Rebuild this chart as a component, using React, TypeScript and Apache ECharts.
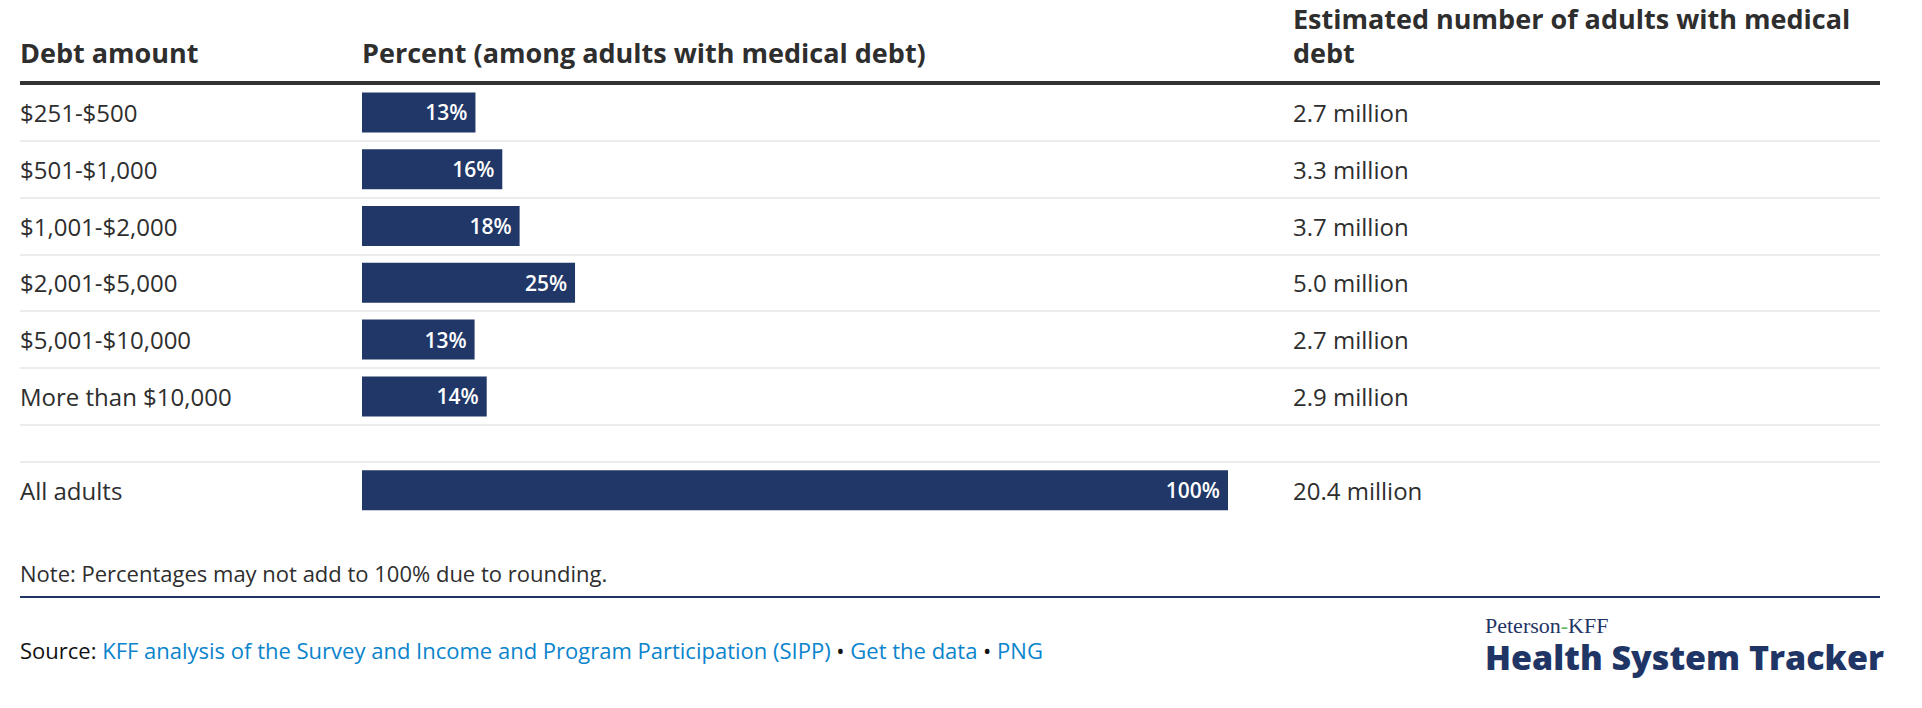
import React, { useEffect, useRef } from "react";
import * as echarts from "echarts";

// ---- data ----
const CATEGORIES = [
  "$251-$500",
  "$501-$1,000",
  "$1,001-$2,000",
  "$2,001-$5,000",
  "$5,001-$10,000",
  "More than $10,000",
];
const PERCENTS = [13.1, 16.2, 18.2, 24.6, 13.0, 14.4];
const MILLIONS = [2.7, 3.3, 3.7, 5.0, 2.7, 2.9];
const TOTAL_CATEGORY = ["All adults"];
const TOTAL_PERCENT = [100];
const TOTAL_MILLIONS = [20.4];

const HEADER_DEBT = "Debt amount";
const HEADER_PERCENT = "Percent (among adults with medical debt)";
const HEADER_ESTIMATE = "Estimated number of adults with medical\ndebt";
const NOTE = "Note: Percentages may not add to 100% due to rounding.";
const SOURCE_LINK = "KFF analysis of the Survey and Income and Program Participation (SIPP)";

// ---- layout / style ----
const FONT = '"Open Sans", "Noto Sans", sans-serif';
const NAVY = "#203768";
const TEXT = "#2e2e2e";
const LEFT = 20;
const RIGHT_EDGE = 1880;
const BAR_LEFT = 362;
const BAR_FULL = 866;
const TABLE_TOP = 84;
const ROW_H = 56.8;
const SPACER_H = 37;
const VALUE_X = 1293;
const ROW_FONT = 24;

export default function App() {
  const ref = useRef<HTMLDivElement>(null);

  useEffect(() => {
    if (!ref.current) return;
    const chart = echarts.init(ref.current, null, { renderer: "svg" });
    const W = 1922;
    const gridRight = W - (BAR_LEFT + BAR_FULL);
    const fullRight = W - RIGHT_EDGE;
    const mainH = ROW_H * CATEGORIES.length;
    const totalTop = TABLE_TOP + mainH + SPACER_H;

    const labelStyle = {
      show: true,
      position: "insideRight",
      distance: 8,
      color: "#ffffff",
      fontFamily: FONT,
      fontSize: 21,
      fontWeight: 600,
      formatter: (p: any) => Math.round(p.value) + "%",
    };

    const leftAxisLabel = {
      align: "left",
      margin: BAR_LEFT - LEFT,
      fontSize: ROW_FONT,
      color: TEXT,
      fontFamily: FONT,
      interval: 0,
    };
    const rightAxisLabelBase = {
      align: "left",
      margin: VALUE_X - (BAR_LEFT + BAR_FULL),
      fontSize: ROW_FONT,
      color: TEXT,
      fontFamily: FONT,
      interval: 0,
    };
    const noLine = { show: false };
    const sep = { show: true, lineStyle: { color: "#ececec", width: 2 } };
    const headerFont = `bold 27px ${FONT}`;

    chart.setOption({
      animation: false,
      textStyle: { fontFamily: FONT },
      grid: [
        { left: BAR_LEFT, right: gridRight, top: TABLE_TOP, height: mainH },
        { left: BAR_LEFT, right: gridRight, top: totalTop, height: ROW_H },
        { left: LEFT, right: fullRight, top: TABLE_TOP, height: mainH },
        { left: LEFT, right: fullRight, top: TABLE_TOP + mainH, height: SPACER_H },
      ],
      xAxis: [
        { gridIndex: 0, type: "value", min: 0, max: 100, show: false },
        { gridIndex: 1, type: "value", min: 0, max: 100, show: false },
        { gridIndex: 2, type: "value", show: false },
        { gridIndex: 3, type: "value", show: false },
      ],
      yAxis: [
        {
          gridIndex: 0, type: "category", data: CATEGORIES, inverse: true, position: "left",
          axisLine: noLine, axisTick: noLine, splitLine: noLine, axisLabel: leftAxisLabel,
        },
        {
          gridIndex: 0, type: "category", data: CATEGORIES, inverse: true, position: "right",
          axisLine: noLine, axisTick: noLine, splitLine: noLine,
          axisLabel: { ...rightAxisLabelBase, formatter: (_v: string, i: number) => MILLIONS[i].toFixed(1) + " million" },
        },
        {
          gridIndex: 1, type: "category", data: TOTAL_CATEGORY, inverse: true, position: "left",
          axisLine: noLine, axisTick: noLine, splitLine: noLine, axisLabel: leftAxisLabel,
        },
        {
          gridIndex: 1, type: "category", data: TOTAL_CATEGORY, inverse: true, position: "right",
          axisLine: noLine, axisTick: noLine, splitLine: noLine,
          axisLabel: { ...rightAxisLabelBase, formatter: (_v: string, i: number) => TOTAL_MILLIONS[i].toFixed(1) + " million" },
        },
        {
          gridIndex: 2, type: "category", data: CATEGORIES, inverse: true,
          axisLine: noLine, axisTick: noLine, axisLabel: noLine, splitLine: sep,
        },
        {
          gridIndex: 3, type: "category", data: [""], inverse: true,
          axisLine: noLine, axisTick: noLine, axisLabel: noLine, splitLine: sep,
        },
      ],
      series: [
        {
          type: "bar", xAxisIndex: 0, yAxisIndex: 0, data: PERCENTS, barWidth: 40,
          itemStyle: { color: NAVY }, label: labelStyle, silent: true,
        },
        {
          type: "bar", xAxisIndex: 1, yAxisIndex: 2, data: TOTAL_PERCENT, barWidth: 40,
          itemStyle: { color: NAVY }, label: labelStyle, silent: true,
        },
      ],
      graphic: [
        {
          type: "text", z: 100,
          style: { text: HEADER_DEBT, x: LEFT, y: 52, verticalAlign: "middle", fill: TEXT, font: headerFont },
        },
        {
          type: "text", z: 100,
          style: { text: HEADER_PERCENT, x: BAR_LEFT, y: 52, verticalAlign: "middle", fill: TEXT, font: headerFont },
        },
        {
          type: "text", z: 100,
          style: {
            text: HEADER_ESTIMATE, x: VALUE_X, y: 1.5, verticalAlign: "top",
            lineHeight: 34, fill: TEXT, font: headerFont,
          },
        },
        {
          type: "line", z: 100,
          shape: { x1: LEFT, y1: 83, x2: RIGHT_EDGE, y2: 83 },
          style: { stroke: "#333333", lineWidth: 4 },
        },
        {
          type: "text", z: 100,
          style: { text: NOTE, x: LEFT, y: 573, verticalAlign: "middle", fill: TEXT, font: `22px ${FONT}` },
        },
        {
          type: "line", z: 100,
          shape: { x1: LEFT, y1: 597, x2: RIGHT_EDGE, y2: 597 },
          style: { stroke: "#1f3566", lineWidth: 2 },
        },
        {
          type: "text", z: 100,
          style: {
            text: `{k|Source: }{l|${SOURCE_LINK}}{k| \u2022 }{l|Get the data}{k| \u2022 }{l|PNG}`,
            x: LEFT, y: 650, verticalAlign: "middle",
            font: `22px ${FONT}`,
            rich: {
              k: { fill: "#111111", fontSize: 22, fontFamily: FONT },
              l: { fill: "#0a84cc", fontSize: 22, fontFamily: FONT },
            },
          },
        },
        {
          type: "text", z: 100,
          style: {
            text: "{n|Peterson}{h|-}{n|KFF}",
            x: 1485, y: 625, verticalAlign: "middle",
            font: `22px "Liberation Serif", serif`,
            rich: {
              n: { fill: "#1f3566", fontSize: 22, fontFamily: '"Liberation Serif", serif' },
              h: { fill: "#5cb85c", fontSize: 22, fontFamily: '"Liberation Serif", serif' },
            },
          },
        },
        {
          type: "text", z: 100,
          style: { text: "Health System Tracker", x: 1485, y: 657, verticalAlign: "middle", fill: "#1f3566", font: `800 34px ${FONT}` },
        },
      ],
    });
    return () => chart.dispose();
  }, []);

  return (
    <div
      ref={ref}
      style={{ position: "fixed", left: 0, top: 0, width: "1922px", height: "708px", background: "#ffffff" }}
    />
  );
}
